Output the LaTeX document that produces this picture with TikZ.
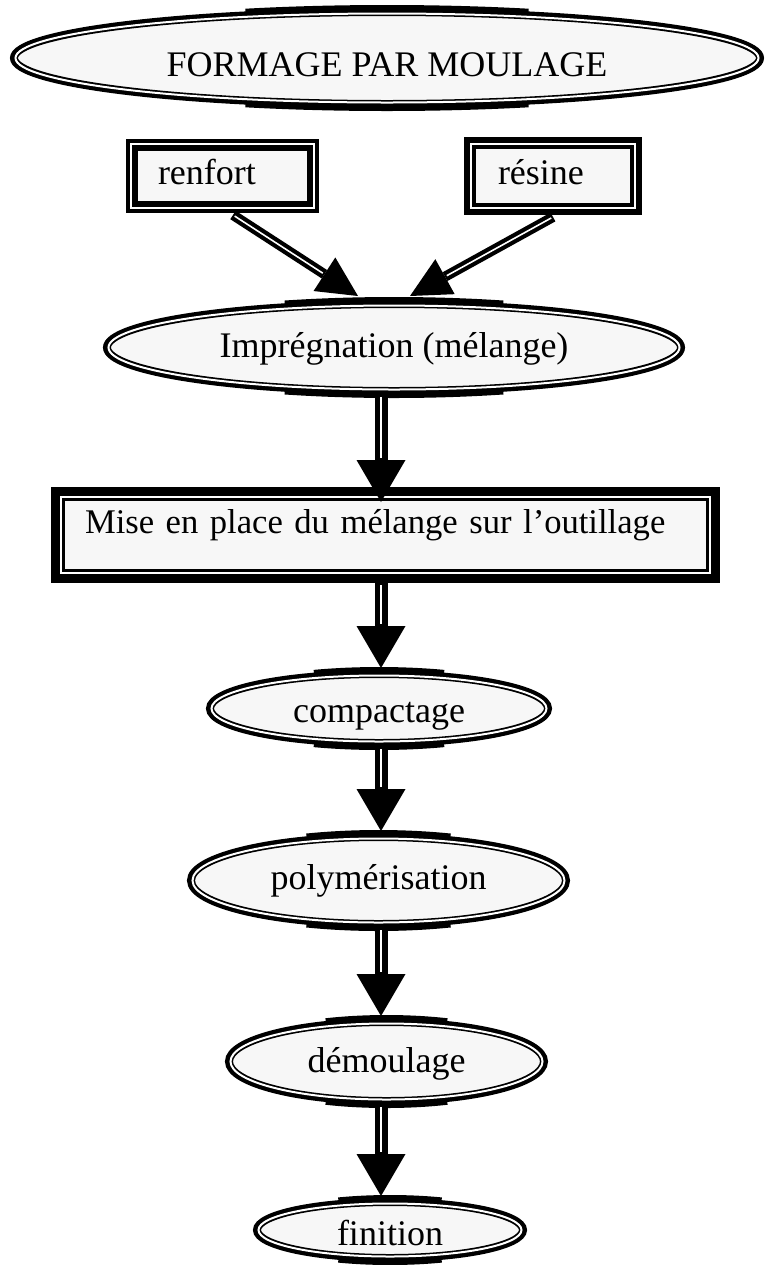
\documentclass[tikz,border=0pt]{standalone}
\usepackage{fontspec}
\setmainfont{Liberation Serif}
\usetikzlibrary{arrows.meta, shapes.geometric, calc}
% thick flat bands at the top and bottom of an oval (#1 node, #2/#3 path radii in pt)
\newcommand\ovalbars[3]{%
  \draw[line width=2pt] (#1.center) ++(68:{#2pt+2.5pt} and {#3pt+2.5pt})
    arc[start angle=68, end angle=112, x radius=#2pt+2.5pt, y radius=#3pt+2.5pt];
  \draw[line width=2pt] (#1.center) ++(248:{#2pt+2.5pt} and {#3pt+2.5pt})
    arc[start angle=248, end angle=292, x radius=#2pt+2.5pt, y radius=#3pt+2.5pt];
  \draw[draw=white, line width=1pt] (#1.center) ellipse [x radius=#2pt-0.75pt, y radius=#3pt-0.75pt];
}
\begin{document}
\begin{tikzpicture}[x=0.5pt, y=-0.5pt,
  txt/.style={font=\fontsize{18}{20}\selectfont},
  oval/.style={ellipse, draw=black, line width=4pt, fill=black!3, inner sep=0pt, txt},
  framed/.style={rectangle, draw=black, fill=black!3, inner sep=0pt, align=left, txt},
  rim/.style={draw=white, line width=1pt},
  flow/.style={line width=6.5pt,
    -{Triangle[width=24.5pt, length=21pt, line width=0pt]},
    postaction={draw=white, line width=1pt, arrows=-, shorten >=22pt, shorten <=1pt}},
  feed/.style={line width=5pt,
    -{Triangle[width=20pt, length=20pt, line width=0pt]},
    postaction={draw=white, line width=0.8pt, arrows=-, shorten >=21pt, shorten <=1pt}}]

\useasboundingbox[fill=white] (0,0) rectangle (768,1265);

% title
\node[oval, minimum width=373pt, minimum height=46pt, text height=18pt, text depth=0pt] (titre) at (387,58) {FORMAGE PAR MOULAGE};
\ovalbars{titre}{186.5}{23}

% inputs
\node[framed, line width=6pt, minimum width=90.5pt, minimum height=31pt,
      text width=64.5pt, text height=12pt, text depth=4pt] (renfort) at (222.5,176) {renfort};
\draw[rim] ([shift={(2.5pt,-2.5pt)}]renfort.north west) rectangle ([shift={(-2.5pt,2.5pt)}]renfort.south east);

\node[framed, line width=6pt, minimum width=83pt, minimum height=33pt,
      text width=55pt, text height=12pt, text depth=4pt] (resine) at (553,176) {résine};
\draw[rim] ([shift={(3.5pt,-3.5pt)}]resine.north west) rectangle ([shift={(-3.5pt,3.5pt)}]resine.south east);

% process steps
\node[oval, minimum width=287pt, minimum height=43.5pt, text height=14pt, text depth=4pt] (impr) at (394,347.5) {Imprégnation (mélange)};
\ovalbars{impr}{143.5}{21.75}

\node[framed, line width=7pt, minimum width=327.5pt, minimum height=41pt,
      text width=300.5pt, text height=12pt, text depth=14pt,
      font=\fontsize{17.3}{20}\selectfont] (mise) at (385.5,535)
      {\mbox{Mise en place du mélange sur l’outillage}};
\draw[rim] ([shift={(5pt,-5pt)}]mise.north west) rectangle ([shift={(-5pt,5pt)}]mise.south east);

\node[oval, minimum width=169pt, minimum height=34.5pt, text height=15pt, text depth=1.5pt] (compact) at (379,708.5) {compactage};
\ovalbars{compact}{84.5}{17.25}

\node[oval, minimum width=187.5pt, minimum height=43.5pt, text height=13pt, text depth=4pt] (poly) at (378.5,880.5) {polymérisation};
\ovalbars{poly}{93.75}{21.75}

\node[oval, minimum width=157.5pt, minimum height=39.5pt, text height=14pt, text depth=3pt] (demoul) at (386.5,1061.5) {démoulage};
\ovalbars{demoul}{78.75}{19.75}

\node[oval, minimum width=133pt, minimum height=28pt, text height=15.5pt, text depth=0pt] (finit) at (390,1230) {finition};
\ovalbars{finit}{66.5}{14}

% connectors
\coordinate (axe) at (381,0);
\draw[feed] ([xshift=5.25pt, yshift=-1pt]renfort.south) -- ([xshift=-18pt, yshift=2pt]impr.north);
\draw[feed] ([yshift=-1pt]resine.south) -- ([xshift=8pt, yshift=2pt]impr.north);
\draw[flow] (impr.south -| axe) -- ($(mise.north -| axe)+(0,15)$);
\draw[flow] (mise.south -| axe) -- ($(compact.north -| axe)+(0,-2)$);
\draw[flow] (compact.south -| axe) -- ($(poly.north -| axe)+(0,-2)$);
\draw[flow] (poly.south -| axe) -- ($(demoul.north -| axe)+(0,-2)$);
\draw[flow] (demoul.south -| axe) -- ($(finit.north -| axe)+(0,-2)$);
\end{tikzpicture}
\end{document}
